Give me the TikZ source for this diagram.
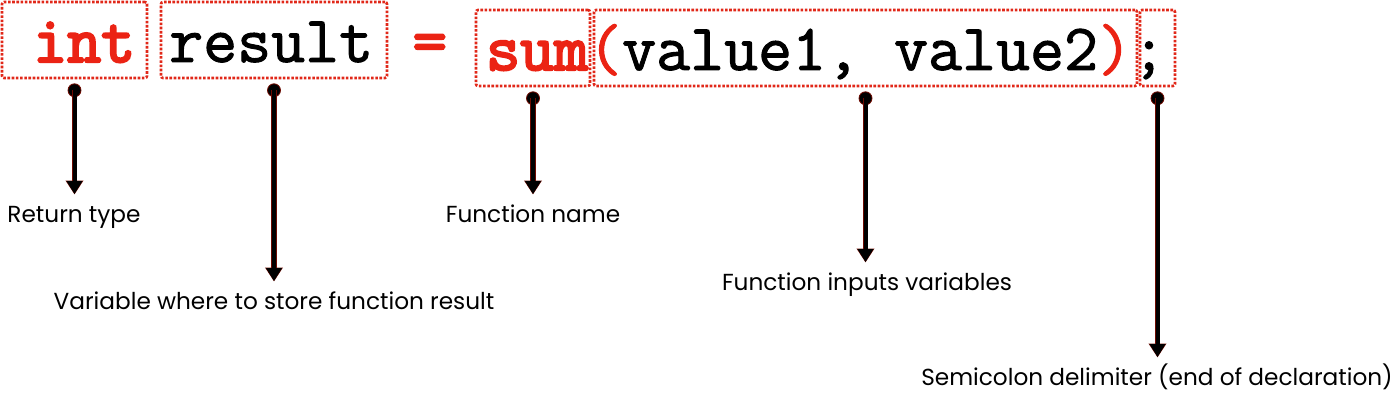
\documentclass[tikz,border=0pt]{standalone}
\usepackage{fontspec}
\setmainfont{Poppins}
\newfontfamily\codefont{Latin Modern Mono}[FakeBold=1.5]
\newfontfamily\codeboldfont{Latin Modern Mono}[FakeBold=3.5]
\usetikzlibrary{arrows.meta}
\definecolor{codered}{RGB}{235,35,20}
\definecolor{boxred}{RGB}{225,40,25}
\definecolor{arrowred}{RGB}{110,10,0}
\tikzset{
  cbox/.style={draw=boxred, line width=2.6pt, dash pattern=on 2.6pt off 1.6pt, rounded corners=2pt, inner sep=0pt},
  ball/.style={circle, fill=black, draw=arrowred, line width=0.8pt, inner sep=0pt, minimum size=13pt},
  conn/.style={-{Triangle[width=15pt,length=13pt]}, line width=4pt, black, shorten >=11pt,
     preaction={draw=arrowred, line width=5.5pt, -{Triangle[width=17pt,length=14pt]}, shorten >=10.5pt}},
  lbl/.style={font=\fontsize{23.2}{26}\selectfont, inner sep=0pt, text height=17pt, text depth=5pt, anchor=north},
  code/.style={font=\codefont\fontsize{66}{70}\selectfont, inner sep=0pt, anchor=base west}
}
\begin{document}
\begin{tikzpicture}[x=1pt,y=-1pt]
\useasboundingbox (0,0) rectangle (1400,401);
% boxes
\node[cbox, minimum width=145pt, minimum height=76pt] (intb) at (74.5,40) {};
\node[cbox, minimum width=226pt, minimum height=76pt] (resb) at (274,40) {};
\node[cbox, minimum width=114pt, minimum height=76pt] (sumb) at (533,48) {};
\node[cbox, minimum width=543pt, minimum height=76pt] (argb) at (865.5,48) {};
\node[cbox, minimum width=35pt, minimum height=76pt] (semb) at (1157.5,48) {};
% code text
\node[code, text=codered] (tint) at (33,62) {\codeboldfont int};
\node[code] (tres) at (169,62) {result};
\node[code, text=codered] (teq) at (412.6,62) {\codeboldfont =};
\node[code] (tsum) at (486,70) {{\codeboldfont\color{codered}sum}{\color{codered}(}value1, value2{\color{codered})};};
% balls
\node[ball] (b1) at ([yshift=-11pt]intb.south) {};
\node[ball] (b2) at ([yshift=-11pt]resb.south) {};
\node[ball] (b3) at ([yshift=-11pt]sumb.south) {};
\node[ball] (b4) at ([yshift=-11pt]argb.south) {};
\node[ball] (b5) at ([yshift=-11pt]semb.south) {};
% labels
\node[lbl] (l1) at (74,205) {Return type};
\node[lbl] (l2) at (274,292) {Variable where to store function result};
\node[lbl] (l3) at (533,205) {Function name};
\node[lbl] (l4) at (867,273) {Function inputs variables};
\node[lbl] (l5) at (1157,368) {Semicolon delimiter (end of declaration)};
% connectors
\draw[conn] (b1.center) -- (b1 |- l1.north);
\draw[conn] (b2.center) -- (b2 |- l2.north);
\draw[conn] (b3.center) -- (b3 |- l3.north);
\draw[conn] (b4.center) -- (b4 |- l4.north);
\draw[conn] (b5.center) -- (b5 |- l5.north);
\end{tikzpicture}
\end{document}
